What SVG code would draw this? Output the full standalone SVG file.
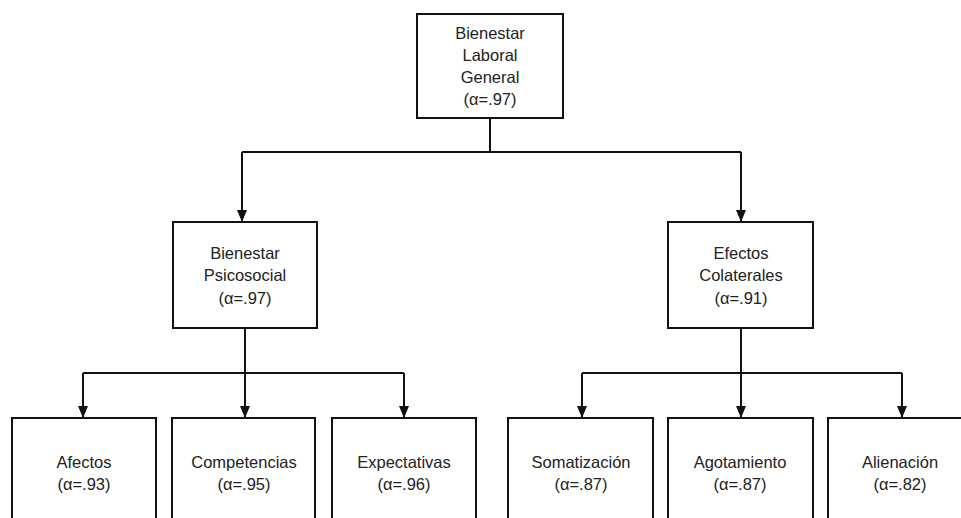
<svg xmlns="http://www.w3.org/2000/svg" width="961" height="518" viewBox="0 0 961 518">
<defs>
<marker id="arr" markerWidth="12" markerHeight="10" refX="12" refY="5" orient="auto" markerUnits="userSpaceOnUse" viewBox="0 0 12 10">
<path d="M0,0 L12,5 L0,10 Z" fill="#111"/>
</marker>
<style>
.box{fill:#fff;stroke:#111;stroke-width:2}
.t{font-family:"Liberation Sans",Arial,sans-serif;font-size:16.5px;fill:#222;text-anchor:middle}
.c{fill:none;stroke:#111;stroke-width:2}
</style>
</defs>
<rect width="961" height="518" fill="#fff"/>
<g id="connectors">
<path class="c" d="M490,118 V152"/>
<path class="c" d="M242,152 H741"/>
<path class="c" d="M242,152 V222" marker-end="url(#arr)"/>
<path class="c" d="M741,152 V222" marker-end="url(#arr)"/>
<path class="c" d="M245,328 V373"/>
<path class="c" d="M83,373 H404"/>
<path class="c" d="M83,373 V418" marker-end="url(#arr)"/>
<path class="c" d="M245,373 V418" marker-end="url(#arr)"/>
<path class="c" d="M404,373 V418" marker-end="url(#arr)"/>
<path class="c" d="M741,328 V373"/>
<path class="c" d="M582,373 H902"/>
<path class="c" d="M582,373 V418" marker-end="url(#arr)"/>
<path class="c" d="M741,373 V418" marker-end="url(#arr)"/>
<path class="c" d="M902,373 V418" marker-end="url(#arr)"/>
</g>
<g id="n-general">
<rect class="box" x="417" y="14" width="146" height="104"/>
<text class="t" x="490" y="39">Bienestar</text>
<text class="t" x="490" y="61">Laboral</text>
<text class="t" x="490" y="83">General</text>
<text class="t" x="490" y="105">(α=.97)</text>
</g>
<g id="n-psicosocial">
<rect class="box" x="173" y="222" width="144" height="106"/>
<text class="t" x="245" y="259">Bienestar</text>
<text class="t" x="245" y="281">Psicosocial</text>
<text class="t" x="245" y="304">(α=.97)</text>
</g>
<g id="n-colaterales">
<rect class="box" x="668" y="222" width="145" height="106"/>
<text class="t" x="741" y="259">Efectos</text>
<text class="t" x="741" y="281">Colaterales</text>
<text class="t" x="741" y="304">(α=.91)</text>
</g>
<g id="n-afectos">
<rect class="box" x="12" y="418" width="144" height="120"/>
<text class="t" x="84" y="468">Afectos</text>
<text class="t" x="84" y="490">(α=.93)</text>
</g>
<g id="n-competencias">
<rect class="box" x="172" y="418" width="143" height="120"/>
<text class="t" x="244" y="468">Competencias</text>
<text class="t" x="244" y="490">(α=.95)</text>
</g>
<g id="n-expectativas">
<rect class="box" x="332" y="418" width="144" height="120"/>
<text class="t" x="404" y="468">Expectativas</text>
<text class="t" x="404" y="490">(α=.96)</text>
</g>
<g id="n-somatizacion">
<rect class="box" x="508" y="418" width="145" height="120"/>
<text class="t" x="581" y="468">Somatización</text>
<text class="t" x="581" y="490">(α=.87)</text>
</g>
<g id="n-agotamiento">
<rect class="box" x="668" y="418" width="145" height="120"/>
<text class="t" x="740" y="468">Agotamiento</text>
<text class="t" x="740" y="490">(α=.87)</text>
</g>
<g id="n-alienacion">
<rect class="box" x="828" y="418" width="145" height="120"/>
<text class="t" x="900" y="468">Alienación</text>
<text class="t" x="900" y="490">(α=.82)</text>
</g>
</svg>
